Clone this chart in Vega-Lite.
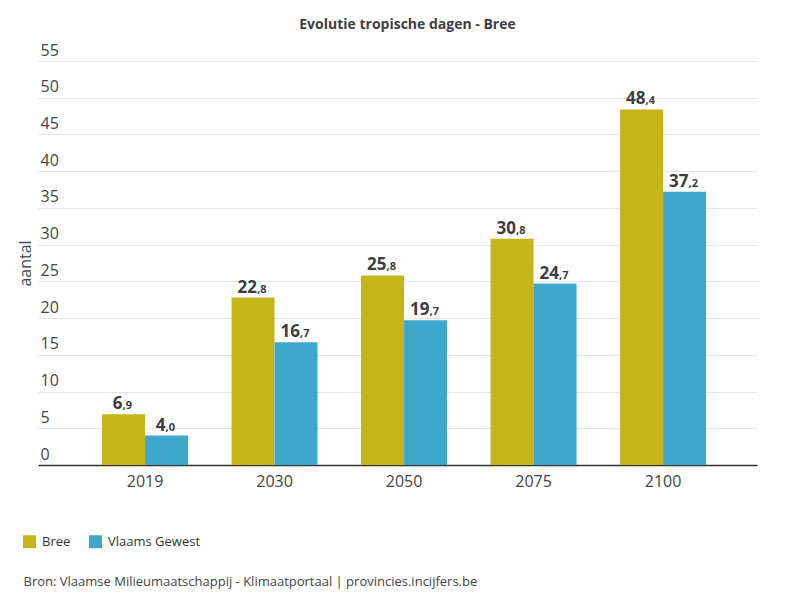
{
  "$schema": "https://vega.github.io/schema/vega-lite/v6.json",
  "width": 719,
  "height": 404,
  "autosize": {"type": "none"},
  "padding": {"left": 38, "top": 61, "right": 43, "bottom": 135},
  "background": "white",
  "title": {
    "text": "Evolutie tropische dagen - Bree",
    "font": "Open Sans",
    "fontSize": 14,
    "fontWeight": "bold",
    "color": "#404040",
    "anchor": "middle",
    "frame": "group",
    "dx": 10,
    "baseline": "alphabetic",
    "offset": -1
  },
  "data": {
    "values": [
      {"jaar": "2019", "reeks": "Bree", "waarde": 6.9},
      {"jaar": "2019", "reeks": "Vlaams Gewest", "waarde": 4.0},
      {"jaar": "2030", "reeks": "Bree", "waarde": 22.8},
      {"jaar": "2030", "reeks": "Vlaams Gewest", "waarde": 16.7},
      {"jaar": "2050", "reeks": "Bree", "waarde": 25.8},
      {"jaar": "2050", "reeks": "Vlaams Gewest", "waarde": 19.7},
      {"jaar": "2075", "reeks": "Bree", "waarde": 30.8},
      {"jaar": "2075", "reeks": "Vlaams Gewest", "waarde": 24.7},
      {"jaar": "2100", "reeks": "Bree", "waarde": 48.4},
      {"jaar": "2100", "reeks": "Vlaams Gewest", "waarde": 37.2}
    ]
  },
  "transform": [
    {"calculate": "split(format(datum.waarde, '.1f'), '.')[0]", "as": "heel"},
    {"calculate": "',' + split(format(datum.waarde, '.1f'), '.')[1]", "as": "dec"}
  ],
  "encoding": {
    "x": {
      "field": "jaar",
      "type": "nominal",
      "scale": {"type": "band", "paddingInner": 0.336, "paddingOuter": 0.444, "align": 0.557},
      "axis": {
        "title": "Bron: Vlaamse Milieumaatschappij - Klimaatportaal | provincies.incijfers.be",
        "titleFont": "Open Sans",
        "titleFontSize": 13,
        "titleFontWeight": "normal",
        "titleColor": "#444444",
        "titleAnchor": "start",
        "titleAlign": "left",
        "titleBaseline": "alphabetic",
        "titleX": -15,
        "titleY": 120,
        "labelAngle": 0,
        "labelFont": "Open Sans",
        "labelFontSize": 16,
        "labelColor": "#444444",
        "labelPadding": 8,
        "ticks": false,
        "domain": true,
        "domainColor": "#333333",
        "domainWidth": 1.5,
        "grid": false
      }
    },
    "xOffset": {"field": "reeks", "type": "nominal", "scale": {"paddingInner": 0, "paddingOuter": 0}},
    "y": {
      "field": "waarde",
      "type": "quantitative",
      "scale": {"domain": [0, 55], "nice": false},
      "axis": {
        "title": "aantal",
        "titleFont": "Open Sans",
        "titleFontSize": 16,
        "titleFontWeight": "normal",
        "titleColor": "#3d4a5c",
        "titleX": -8,
        "titleBaseline": "alphabetic",
        "values": [0, 5, 10, 15, 20, 25, 30, 35, 40, 45, 50, 55],
        "labelFont": "Open Sans",
        "labelFontSize": 16,
        "labelColor": "#444444",
        "labelAlign": "left",
        "labelBaseline": "alphabetic",
        "labelPadding": -2,
        "labelOffset": -6,
        "ticks": false,
        "domain": false,
        "grid": true,
        "gridColor": "#e6e6e6",
        "gridWidth": 1
      }
    }
  },
  "layer": [
    {
      "mark": {"type": "bar"},
      "encoding": {
        "color": {
          "field": "reeks",
          "type": "nominal",
          "scale": {"domain": ["Bree", "Vlaams Gewest"], "range": ["#c5b518", "#3ea8cc"]},
          "legend": {
            "title": null,
            "orient": "none",
            "legendX": -15,
            "legendY": 474,
            "direction": "horizontal",
            "symbolType": "square",
            "symbolSize": 169,
            "symbolStrokeWidth": 0,
            "labelFont": "Open Sans",
            "labelFontSize": 13,
            "labelColor": "#333333",
            "labelOffset": 6,
            "columnPadding": 18
          }
        }
      }
    },
    {
      "transform": [{"filter": "datum.waarde < 10"}],
      "mark": {"type": "text", "align": "right", "baseline": "alphabetic", "dy": -5, "dx": -1, "font": "Open Sans", "fontSize": 17, "fontWeight": "bold", "color": "#3d3d3d"},
      "encoding": {"text": {"field": "heel"}}
    },
    {
      "transform": [{"filter": "datum.waarde < 10"}],
      "mark": {"type": "text", "align": "left", "baseline": "alphabetic", "dy": -5, "dx": -1, "font": "Open Sans", "fontSize": 11, "fontWeight": "bold", "color": "#3d3d3d"},
      "encoding": {"text": {"field": "dec"}}
    },
    {
      "transform": [{"filter": "datum.waarde >= 10"}],
      "mark": {"type": "text", "align": "right", "baseline": "alphabetic", "dy": -5, "dx": 4, "font": "Open Sans", "fontSize": 17, "fontWeight": "bold", "color": "#3d3d3d"},
      "encoding": {"text": {"field": "heel"}}
    },
    {
      "transform": [{"filter": "datum.waarde >= 10"}],
      "mark": {"type": "text", "align": "left", "baseline": "alphabetic", "dy": -5, "dx": 4, "font": "Open Sans", "fontSize": 11, "fontWeight": "bold", "color": "#3d3d3d"},
      "encoding": {"text": {"field": "dec"}}
    }
  ],
  "config": {
    "view": {"stroke": null}
  }
}
